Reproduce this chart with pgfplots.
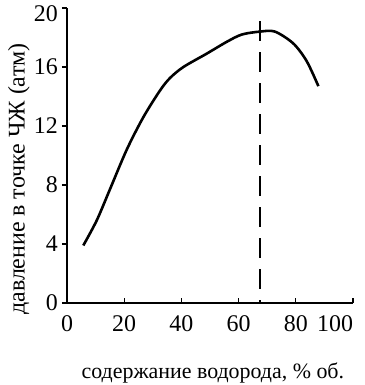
\documentclass[border=0pt]{standalone}
\usepackage{pgfplots}
\pgfplotsset{compat=1.18}
\usepackage{fontspec}
\setmainfont{Liberation Serif}
\begin{document}
\begin{tikzpicture}
\begin{axis}[
  name=ax,
  scale only axis,
  width=286bp, height=295bp,
  xmin=0, xmax=100, ymin=0, ymax=20,
  axis x line*=bottom, axis y line*=left,
  axis line style={line width=1.4pt},
  xtick={0,20,40,60,80,100},
  xticklabels={0,20,40,60,80,\makebox[0pt][r]{100}},
  ytick={0,4,8,12,16,20},
  yticklabels={0,4,8,12,16,\raisebox{-6bp}[\height][0pt]{20}},
  tick align=inside,
  tick style={line width=1.2pt, black},
  major tick length=5bp,
  y tick style={xshift=-5bp},
  xtick pos=bottom, ytick pos=left,
  /pgf/number format/assume math mode=true,
  tick label style={font=\fontsize{24}{24}\selectfont, inner sep=0pt},
  xticklabel style={anchor=north, yshift=-12bp},
  yticklabel style={anchor=east, xshift=-9bp},
  xlabel={содержание водорода, \% об.},
  ylabel={давление в точке ЧЖ (атм)},
  label style={inner sep=0pt},
  xlabel style={font=\fontsize{22}{22}\selectfont, at={(axis description cs:0.51,0)}, anchor=base, yshift=-75bp},
  ylabel style={font=\fontsize{24}{24}\selectfont, at={(axis description cs:-0.148,0.42)}, anchor=base},
  clip=false,
]
\addplot[black, line width=2.6pt, smooth, tension=0.5] coordinates {
(5.7,3.9) (10.4,5.6) (15.0,7.7) (20.9,10.4) (26.7,12.6) (32.5,14.4) (36,15.25)
(40.7,16.0) (48.8,16.9) (55.8,17.7) (61.1,18.2) (67.5,18.4) (72.7,18.4)
(79.1,17.6) (83.8,16.4) (87.9,14.7)
};
\addplot[black, line width=2.2pt, dash pattern=on 20bp off 11bp] coordinates {(67.5,19.1) (67.5,0)};
\end{axis}
\pgfresetboundingbox
\path[use as bounding box] (ax.south west) ++(-67bp,-82bp) rectangle ++(365bp,385bp);
\end{tikzpicture}
\end{document}
